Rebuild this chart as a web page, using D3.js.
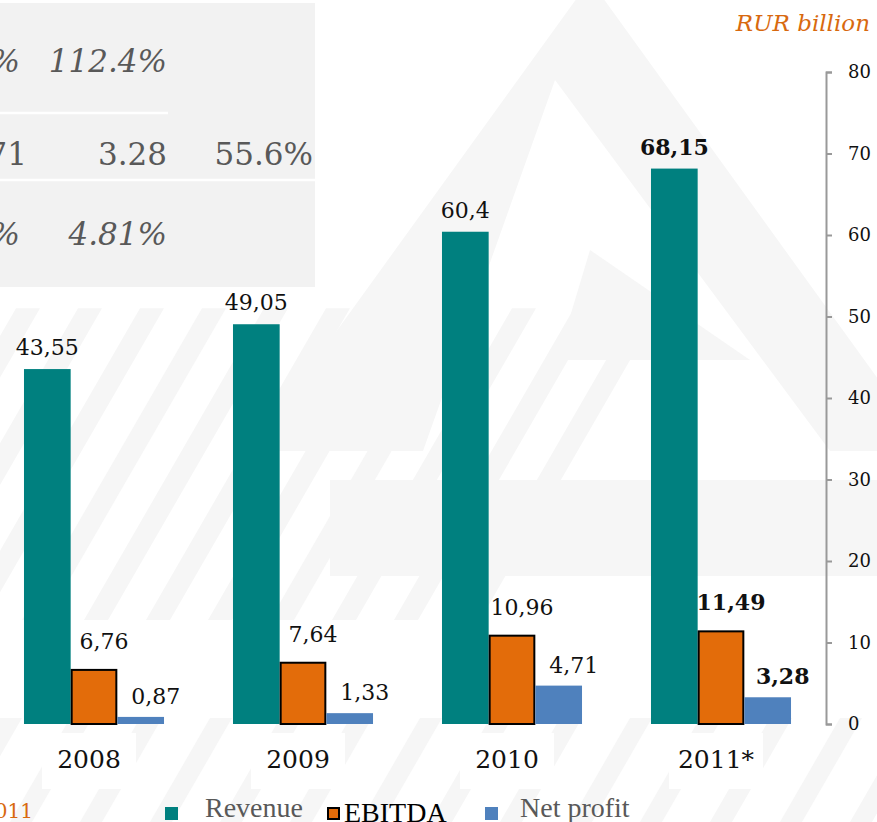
<!DOCTYPE html>
<html>
<head>
<meta charset="utf-8">
<script src="https://cdn.jsdelivr.net/npm/d3@7/dist/d3.min.js"></script>
<style>
  body { margin: 0; background: #fff; }
  svg { display: block; }
</style>
</head>
<body>
<svg></svg>
<script>
const size = {w: 877, h: 822};

// chart data
const years = ['2008', '2009', '2010', '2011'];
const yearLabels = ['2008', '2009', '2010', '2011*'];
const seriesNames = ['Revenue', 'EBITDA', 'Net profit'];
const revenue = [43.55, 49.05, 60.4, 68.15];
const ebitda = [6.76, 7.64, 10.96, 11.49];
const netProfit = [0.87, 1.33, 4.71, 3.28];
const yTicks = [0, 10, 20, 30, 40, 50, 60, 70, 80];

// the clipped table in the top left corner
const tableCol1 = ['%', '71', '%'];
const tableCol2 = ['112.4%', '3.28', '4.81%'];
const tableCol3 = ['', '55.6%', ''];
const tableItalic = [true, false, true];

const serif = '"DejaVu Serif", Georgia, serif';
const colors = {Revenue: '#00807f', EBITDA: '#e36c0a', 'Net profit': '#4f81bd'};
const orangeText = '#d8690f';

const svg = d3.select('svg')
    .attr('width', size.w)
    .attr('height', size.h);

// ---------- faint background watermark ----------
const bgG = svg.append('g').attr('fill', '#f6f6f6');
const poly = pts => 'M' + pts.map(p => p.join(',')).join('L') + 'Z';

bgG.append('path').attr('d', poly([[590, -20], [930, 451], [250, 451]]));
bgG.append('path').attr('fill', '#fff').attr('d', poly([[555, 80], [830, 451], [423, 451]]));
bgG.append('path').attr('d', poly([[590, 250], [750, 360], [557, 360]]));
bgG.append('rect').attr('x', 330).attr('y', 480).attr('width', 547).attr('height', 96);

// diagonal stripes on the left
const stripeG = bgG.append('g');
d3.range(-2, 9).forEach(i => {
    let x0 = i * 62 - 40, y0 = 620, len = 360, w = 24;
    let dx = len * Math.cos(Math.PI / 3), dy = -len * Math.sin(Math.PI / 3);
    stripeG.append('path')
        .attr('d', poly([[x0, y0], [x0 + w, y0], [x0 + w + dx, y0 + dy], [x0 + dx, y0 + dy]]));
});
d3.range(-1, 14).forEach(i => {
    let x0 = i * 70 - 60, y0 = 822, len = 120, w = 22;
    let dx = len * Math.cos(Math.PI / 3), dy = -len * Math.sin(Math.PI / 3);
    stripeG.append('path')
        .attr('d', poly([[x0, y0], [x0 + w, y0], [x0 + w + dx, y0 + dy], [x0 + dx, y0 + dy]]));
});

// ---------- table box ----------
const tableG = svg.append('g').classed('table', true);
tableG.append('rect')
    .attr('x', 0).attr('y', 3).attr('width', 315).attr('height', 284)
    .attr('fill', '#f2f2f2');
tableG.append('line').attr('x1', 0).attr('x2', 168).attr('y1', 113).attr('y2', 113)
    .attr('stroke', '#fff').attr('stroke-width', 2.5);
tableG.append('line').attr('x1', 0).attr('x2', 315).attr('y1', 180).attr('y2', 180)
    .attr('stroke', '#fff').attr('stroke-width', 2.5);

const rowY = [72, 165, 245];
const colX = [[20, 27, 20], [167, 167, 167], [313, 313, 313]];
[tableCol1, tableCol2, tableCol3].forEach((col, ci) => {
    tableG.selectAll(null)
        .data(col)
        .join('text')
        .attr('x', (d, i) => colX[ci][i])
        .attr('y', (d, i) => rowY[i])
        .attr('text-anchor', 'end')
        .attr('font-family', serif)
        .attr('font-size', 31)
        .attr('font-style', (d, i) => tableItalic[i] ? 'italic' : 'normal')
        .attr('fill', '#595959')
        .text(d => d);
});

// ---------- scales ----------
const y = d3.scaleLinear().domain([0, 80]).range([724, 72]);
const x0 = d3.scaleBand()
    .domain(years)
    .range([-10.5, 825.5])
    .paddingInner(0.33)
    .paddingOuter(0.165);
const x1 = d3.scaleBand().domain(seriesNames).range([0, x0.bandwidth()]);

const rows = years.map((yr, i) => ({
    year: yr,
    label: yearLabels[i],
    bold: i === years.length - 1,
    values: [
        {key: 'Revenue', v: revenue[i]},
        {key: 'EBITDA', v: ebitda[i]},
        {key: 'Net profit', v: netProfit[i]}
    ]
}));

// ---------- year labels ----------
const yearG = svg.append('g').classed('years', true);
rows.forEach(r => {
    let cx = x0(r.year) + x0.bandwidth() / 2 - 5;
    yearG.append('rect')
        .attr('x', cx - 47).attr('y', 733).attr('width', 94).attr('height', 56)
        .attr('fill', '#fff');
    yearG.append('text')
        .attr('x', cx).attr('y', 768)
        .attr('text-anchor', 'middle')
        .attr('font-family', serif)
        .attr('font-size', 25)
        .attr('fill', '#111')
        .text(r.label);
});

// ---------- bars ----------
const groups = svg.append('g').classed('bars', true)
    .selectAll('g')
    .data(rows)
    .join('g')
    .attr('transform', d => `translate(${x0(d.year)},0)`);

groups.selectAll('rect')
    .data(d => d.values)
    .join('rect')
    .attr('x', d => x1(d.key) + (d.key === 'EBITDA' ? 1 : 0))
    .attr('y', d => y(d.v) + (d.key === 'EBITDA' ? 1 : 0))
    .attr('width', d => x1.bandwidth() - (d.key === 'EBITDA' ? 2 : 0))
    .attr('height', d => y(0) - y(d.v) - (d.key === 'EBITDA' ? 1 : 0))
    .attr('fill', d => colors[d.key])
    .attr('stroke', d => d.key === 'EBITDA' ? '#000' : 'none')
    .attr('stroke-width', 2);

// value labels
const labelDx = {Revenue: 0, EBITDA: 10, 'Net profit': 15};
const labelGap = {Revenue: 14, EBITDA: 20, 'Net profit': 13};
groups.each(function (r) {
    d3.select(this).selectAll('text')
        .data(r.values)
        .join('text')
        .attr('x', d => x1(d.key) + x1.bandwidth() / 2 + labelDx[d.key])
        .attr('y', d => y(d.v) - labelGap[d.key])
        .attr('text-anchor', 'middle')
        .attr('font-family', serif)
        .attr('font-size', 22)
        .attr('font-weight', r.bold ? 'bold' : 'normal')
        .attr('fill', '#111')
        .text(d => String(d.v).replace('.', ','));
});

// ---------- right axis ----------
const axisG = svg.append('g')
    .attr('transform', 'translate(826,0)')
    .call(d3.axisRight(y).tickValues(yTicks).tickSize(6).tickPadding(16));
axisG.select('.domain').attr('stroke', '#999').attr('stroke-width', 2);
axisG.selectAll('.tick line').attr('stroke', '#999').attr('stroke-width', 2);
axisG.selectAll('.tick text')
    .attr('font-family', serif)
    .attr('font-size', 18)
    .attr('fill', '#111');

// ---------- titles ----------
svg.append('text')
    .attr('x', 870).attr('y', 31)
    .attr('text-anchor', 'end')
    .attr('font-family', serif)
    .attr('font-style', 'italic')
    .attr('font-size', 23)
    .attr('fill', orangeText)
    .text('RUR billion');

svg.append('text')
    .attr('x', 33).attr('y', 818)
    .attr('text-anchor', 'end')
    .attr('font-family', serif)
    .attr('font-size', 20)
    .attr('fill', orangeText)
    .text('2011');

// ---------- legend ----------
const legendBox = [165, 327, 485];
const legendText = [205, 344, 520];
const legendBase = [817, 822, 817];
const legendFill = ['#595959', '#000', '#595959'];
const legendG = svg.append('g').classed('legend', true);
seriesNames.forEach((s, i) => {
    legendG.append('rect')
        .attr('x', legendBox[i] + (s === 'EBITDA' ? 1 : 0))
        .attr('y', 807 + (s === 'EBITDA' ? 1 : 0))
        .attr('width', 13 - (s === 'EBITDA' ? 2 : 0))
        .attr('height', 13 - (s === 'EBITDA' ? 2 : 0))
        .attr('fill', colors[s])
        .attr('stroke', s === 'EBITDA' ? '#000' : 'none')
        .attr('stroke-width', 2);
    legendG.append('text')
        .attr('x', legendText[i]).attr('y', legendBase[i])
        .attr('font-family', '"Liberation Serif", "Times New Roman", serif')
        .attr('font-size', 28)
        .attr('fill', legendFill[i])
        .text(s);
});
</script>
</body>
</html>
